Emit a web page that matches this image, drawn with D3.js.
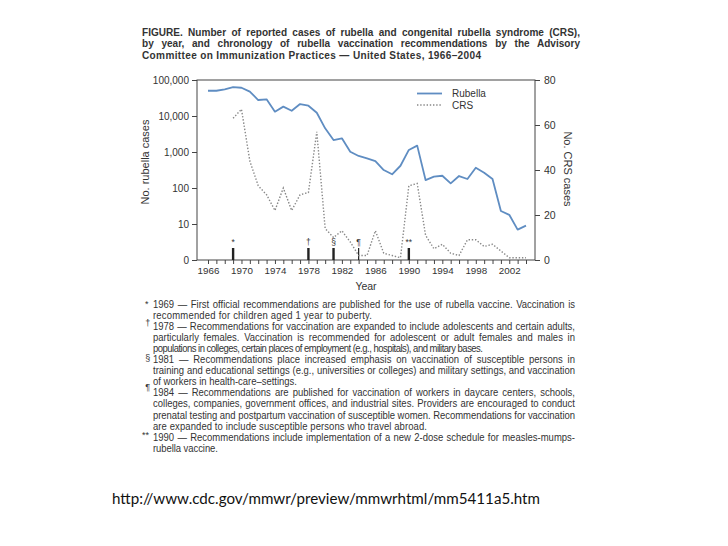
<!DOCTYPE html>
<html><head><meta charset="utf-8">
<script src="https://cdn.jsdelivr.net/npm/d3@7"></script>
<style>
html,body{margin:0;padding:0;background:#fff;}
svg{display:block;font-family:"Liberation Sans",Arial,sans-serif;}
</style></head>
<body>
<svg id="chart" width="728" height="546"></svg>
<script>
// ---------- data ----------
const years = d3.range(1966, 2005);
const rubellaCases = [50300, 50300, 55000, 63000, 61000, 47500, 27800, 29000, 13200, 18200,
  14000, 21500, 19300, 12300, 4550, 2150, 2400, 1020, 775, 665,
  560, 316, 240, 415, 1140, 1500, 166, 206, 219, 135,
  215, 178, 366, 266, 178, 23, 18, 7, 9];
const crsYears = d3.range(1969, 2005);
const crsCases = [63, 67, 44, 33, 29, 22, 32, 22, 29, 30,
  57, 14, 10, 13, 8, 2, 2, 13, 3, 2,
  1, 33, 34, 11, 5, 7, 3, 2, 9, 9,
  6, 7, 4, 1, 1, 1];
const recYears = [1969, 1978, 1981, 1984, 1990];
const recSymbols = ["*", "\u2020", "\u00a7", "\u00b6", "**"];
const leftTicks = [1, 10, 100, 1000, 10000, 100000];
const leftTickLabels = ["0", "10", "100", "1,000", "10,000", "100,000"];
const rightTicks = [0, 20, 40, 60, 80];
const yearLabelStep = 4;
const titleLines = [
  "FIGURE. Number of reported cases of rubella and congenital rubella syndrome (CRS),",
  "by year, and chronology of rubella vaccination recommendations by the Advisory",
  "Committee on Immunization Practices \u2014 United States, 1966\u20132004"
];
const noteLines = [
  "1969 \u2014 First official recommendations are published for the use of rubella vaccine. Vaccination is",
  "recommended for children aged 1 year to puberty.",
  "1978 \u2014 Recommendations for vaccination are expanded to include adolescents and certain adults,",
  "particularly females. Vaccination is recommended for adolescent or adult females and males in",
  "populations in colleges, certain places of employment (e.g., hospitals), and military bases.",
  "1981 \u2014 Recommendations place increased emphasis on vaccination of susceptible persons in",
  "training and educational settings (e.g., universities or colleges) and military settings, and vaccination",
  "of workers in health-care\u2013settings.",
  "1984 \u2014 Recommendations are published for vaccination of workers in daycare centers, schools,",
  "colleges, companies, government offices, and industrial sites. Providers are encouraged to conduct",
  "prenatal testing and postpartum vaccination of susceptible women. Recommendations for vaccination",
  "are expanded to include susceptible persons who travel abroad.",
  "1990 \u2014 Recommendations include implementation of a new 2-dose schedule for measles-mumps-",
  "rubella vaccine."
];
const noteMarkSymbols = ["*", "\u2020", "\u00a7", "\u00b6", "**"];
const sourceText = "http://www.cdc.gov/mmwr/preview/mmwrhtml/mm5411a5.htm";

// ---------- layout ----------
const svg = d3.select("#chart");
svg.append("rect").attr("width", 728).attr("height", 546).attr("fill", "#fff");
const ink = "#333";
const L = 197, R = 535, T = 80, B = 260;

const x = d3.scaleLinear().domain([1966, 2004]).range([208, 526]);
const yL = d3.scaleLog().domain([1, 100000]).range([B, T]);
const yR = d3.scaleLinear().domain([0, 80]).range([B, T]);

// text block: glyphs condensed by s; full lines justified by word spacing, all lines fit to their measured width
function textBlock(lines, x0, y0, dy, ends, justified, size, weight, s) {
  const g = svg.append("g");
  lines.forEach((t, i) => {
    const n = g.append("text")
      .attr("font-size", size).attr("font-weight", weight).attr("fill", ink)
      .attr("transform", `translate(${x0},${y0 + i * dy}) scale(${s},1)`).text(t);
    const nat = n.node().getComputedTextLength();
    const target = (ends[i] - x0) / s;
    if (justified[i] && target > nat) {
      const spaces = (t.match(/ /g) || []).length;
      n.attr("word-spacing", (target - nat) / spaces);
    }
    n.attr("textLength", target).attr("lengthAdjust", "spacing");
  });
  return g;
}

// title
textBlock(titleLines, 142, 35.5, 11.7, [580, 580, 481], [true, true, false], 10.6, "bold", 0.95);

// frame
svg.append("rect").attr("x", L).attr("y", T).attr("width", R - L).attr("height", B - T)
  .attr("fill", "none").attr("stroke", "#444").attr("stroke-width", 1);

// axes
const gL = svg.append("g").attr("transform", `translate(${L},0)`)
  .call(d3.axisLeft(yL).tickValues(leftTicks).tickSize(5).tickPadding(3)
    .tickFormat((d, i) => leftTickLabels[i]));
const gR = svg.append("g").attr("transform", `translate(${R},0)`)
  .call(d3.axisRight(yR).tickValues(rightTicks).tickSize(5).tickPadding(4));
const gB = svg.append("g").attr("transform", `translate(0,${B})`)
  .call(d3.axisBottom(x).tickValues(years).tickSize(4).tickPadding(3)
    .tickFormat(d => (d - 1966) % yearLabelStep === 0 ? d : ""));
[gL, gR, gB].forEach(g => {
  g.select(".domain").remove();
  g.selectAll("line").attr("stroke", "#444");
  g.selectAll("text").attr("fill", ink).attr("font-family", "Liberation Sans, Arial, sans-serif");
});
gL.selectAll("text").attr("font-size", 10);
gR.selectAll("text").attr("font-size", 10.5);
gB.selectAll("text").attr("font-size", 9.8);

// axis titles
svg.append("text").attr("transform", "translate(149,162) rotate(-90)")
  .attr("text-anchor", "middle").attr("font-size", 11).attr("fill", ink).text("No. rubella cases");
svg.append("text").attr("transform", "translate(564,169) rotate(90)")
  .attr("text-anchor", "middle").attr("font-size", 11).attr("fill", ink).text("No. CRS cases");
svg.append("text").attr("x", 366).attr("y", 290).attr("text-anchor", "middle")
  .attr("font-size", 10.5).attr("fill", ink).text("Year");

// recommendation markers
svg.append("g").selectAll("line").data(recYears).join("line")
  .attr("x1", d => x(d)).attr("x2", d => x(d)).attr("y1", B).attr("y2", B - 12)
  .attr("stroke", "#222").attr("stroke-width", (d, i) => i === 3 ? 1.2 : 2.4);
svg.append("g").selectAll("text").data(recYears).join("text")
  .attr("x", d => x(d)).attr("y", B - 15.5).attr("text-anchor", "middle")
  .attr("font-size", 8.5).attr("fill", ink).text((d, i) => recSymbols[i]);

// CRS line (dotted)
const crsLine = d3.line().x((d, i) => x(crsYears[i])).y(d => yR(d));
svg.append("path").datum(crsCases).attr("d", crsLine)
  .attr("fill", "none").attr("stroke", "#888").attr("stroke-width", 1.4)
  .attr("stroke-dasharray", "1.4,1.8");

// Rubella line
const rubLine = d3.line().x((d, i) => x(years[i])).y(d => yL(d));
svg.append("path").datum(rubellaCases).attr("d", rubLine)
  .attr("fill", "none").attr("stroke", "#5f8dc2").attr("stroke-width", 1.8)
  .attr("stroke-linejoin", "round");

// legend
const lg = svg.append("g");
lg.append("line").attr("x1", 417).attr("x2", 442).attr("y1", 93.5).attr("y2", 93.5)
  .attr("stroke", "#5f8dc2").attr("stroke-width", 1.8);
lg.append("line").attr("x1", 417).attr("x2", 442).attr("y1", 105).attr("y2", 105)
  .attr("stroke", "#888").attr("stroke-width", 1.4).attr("stroke-dasharray", "1.4,1.8");
lg.append("text").attr("x", 452).attr("y", 97).attr("font-size", 10).attr("fill", ink).text("Rubella");
lg.append("text").attr("x", 452).attr("y", 108.5).attr("font-size", 10).attr("fill", ink).text("CRS");

// footnotes
const noteEnds = [575, 372, 575, 575, 483, 575, 575, 297, 575, 575, 575, 427, 575, 218];
const noteJust = [true, false, true, true, false, true, true, false, true, true, true, false, true, false];
textBlock(noteLines, 153, 308.3, 11.02, noteEnds, noteJust, 10, "normal", 0.95);
const markX = [146.7, 147.7, 147.7, 147.7, 145.5];
const markY = [307, 326, 361, 390, 438];
svg.append("g").selectAll("text").data(noteMarkSymbols).join("text")
  .attr("x", (d, i) => markX[i]).attr("y", (d, i) => markY[i]).attr("text-anchor", "middle")
  .attr("font-size", 9).attr("fill", ink).text(d => d);

// source
svg.append("text").attr("x", 112).attr("y", 504).attr("font-family", "Lato, 'Open Sans', sans-serif")
  .attr("font-size", 14.5).attr("fill", "#111").attr("textLength", 428).attr("lengthAdjust", "spacingAndGlyphs")
  .text(sourceText);
</script>
</body></html>
